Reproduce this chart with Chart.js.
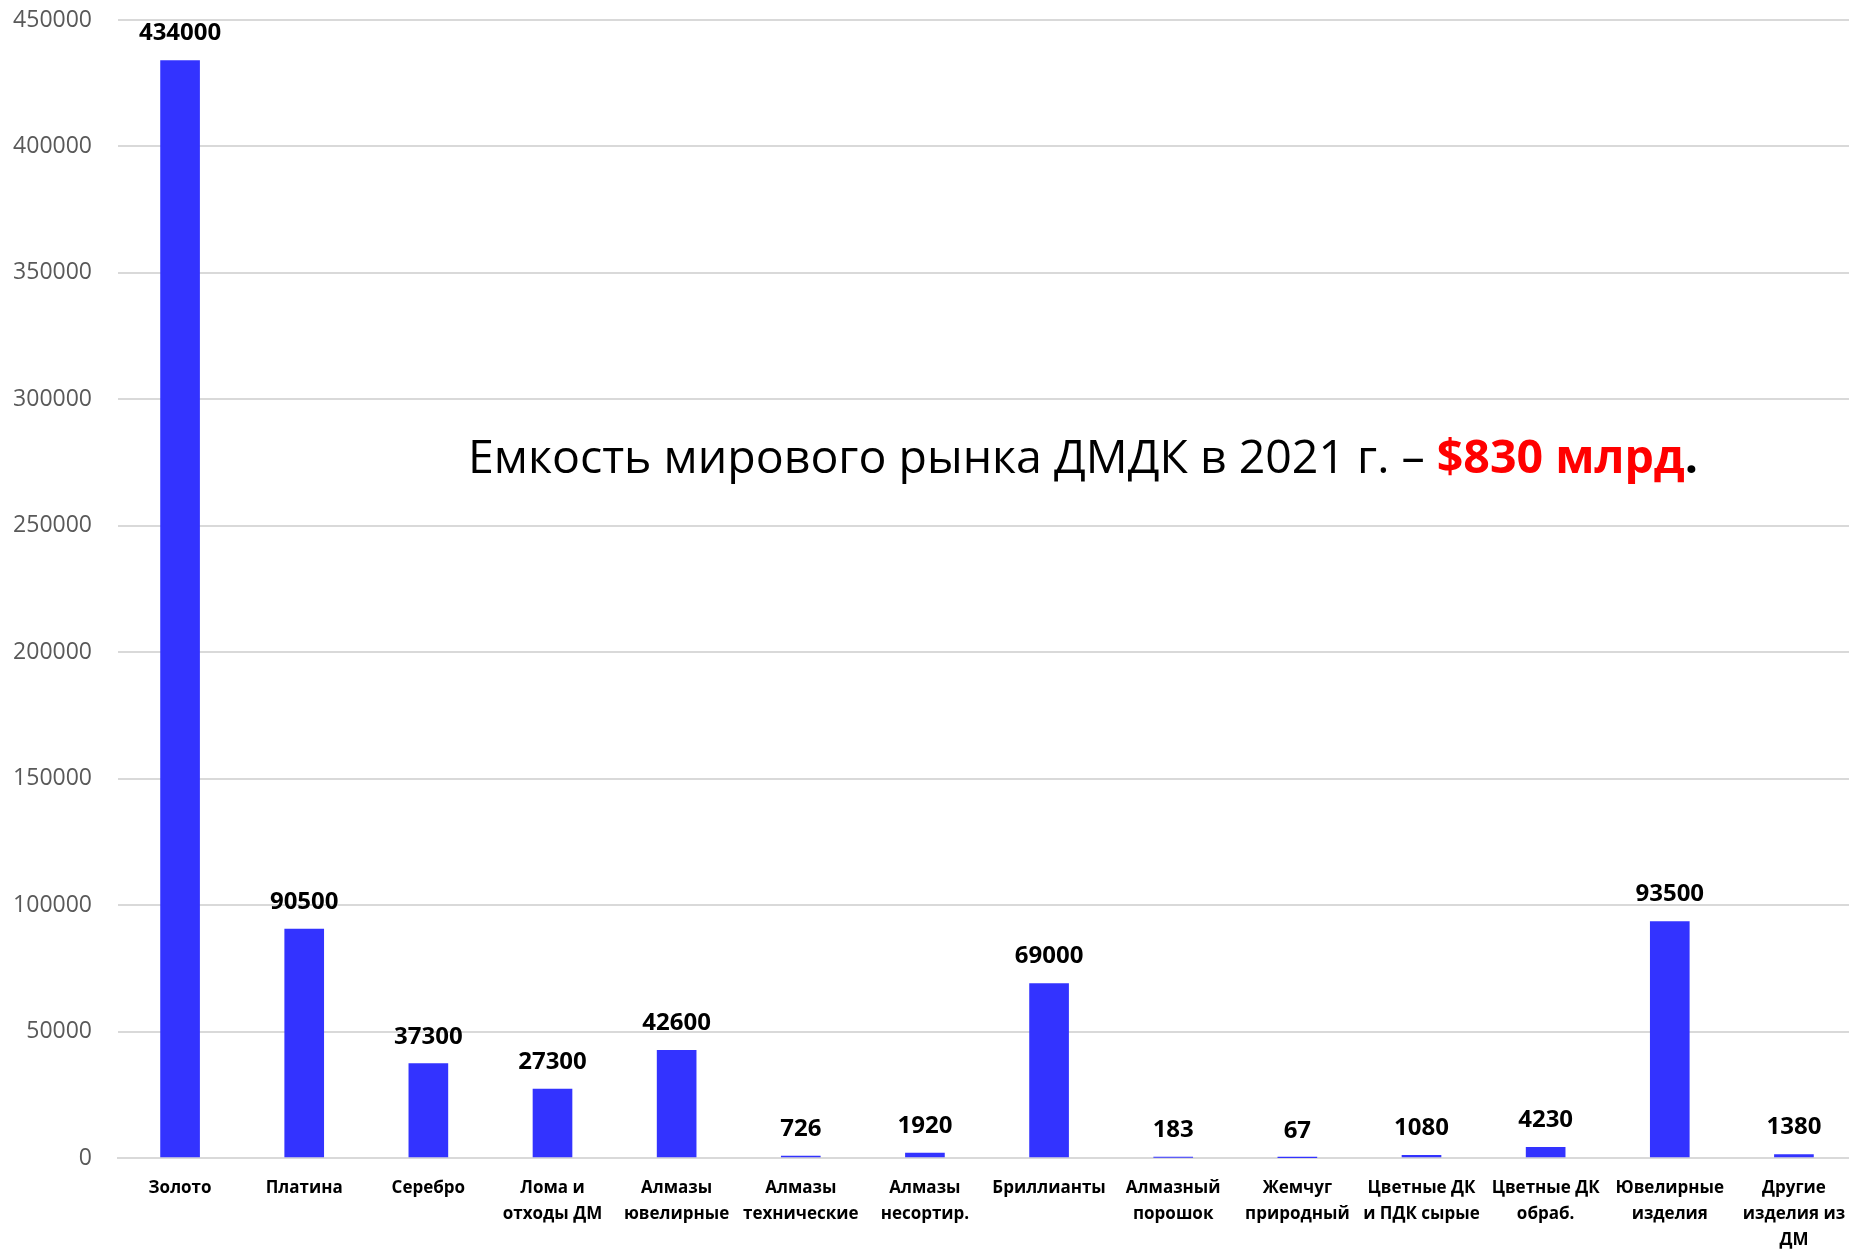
<!DOCTYPE html>
<html>
<head>
<meta charset="utf-8">
<script src="https://cdn.jsdelivr.net/npm/chart.js@4.4.1/dist/chart.umd.min.js"></script>
<style>
  html, body { margin: 0; background: #fff; overflow: hidden; }
  #wrap { width: 1856px; height: 1249px; }
</style>
</head>
<body>
<div id="wrap"><canvas id="myChart" width="1856" height="1249"></canvas></div>
<script>
// categories (multi-line labels as in the original)
const categories = [
  ["Золото"], ["Платина"], ["Серебро"], ["Лома и", "отходы ДМ"],
  ["Алмазы", "ювелирные"], ["Алмазы", "технические"], ["Алмазы", "несортир."],
  ["Бриллианты"], ["Алмазный", "порошок"], ["Жемчуг", "природный"],
  ["Цветные ДК", "и ПДК сырые"], ["Цветные ДК", "обраб."],
  ["Ювелирные", "изделия"], ["Другие", "изделия из", "ДМ"]
];
const values = [434000, 90500, 37300, 27300, 42600, 726, 1920, 69000, 183, 67, 1080, 4230, 93500, 1380];
const yMin = 0;
const yMax = 450000;
const yStep = 50000;
const noteText = "Емкость мирового рынка ДМДК в 2021 г. – ";
const noteAccent = "$830 млрд";

const valueLabels = {
  id: 'valueLabels',
  afterDatasetsDraw(chart) {
    const ctx = chart.ctx;
    const meta = chart.getDatasetMeta(0);
    ctx.save();
    ctx.font = "bold 24px 'Open Sans'";
    ctx.fillStyle = '#000';
    ctx.textAlign = 'center';
    ctx.textBaseline = 'middle';
    meta.data.forEach((bar, i) => {
      ctx.fillText(String(values[i]), bar.x, bar.y - 27);
    });
    ctx.restore();
  }
};

const note = {
  id: 'note',
  afterDraw(chart) {
    const ctx = chart.ctx;
    ctx.save();
    ctx.textBaseline = 'middle';
    ctx.textAlign = 'left';
    let x = 468;
    const y = 460;
    ctx.font = "46.5px 'Open Sans'";
    ctx.fillStyle = '#000';
    ctx.fillText(noteText, x, y);
    x += ctx.measureText(noteText).width;
    ctx.font = "bold 46.5px 'Open Sans'";
    ctx.fillStyle = '#ff0000';
    ctx.fillText(noteAccent, x, y);
    x += ctx.measureText(noteAccent).width;
    ctx.fillStyle = '#000';
    ctx.fillText('.', x, y);
    ctx.restore();
  }
};

new Chart(document.getElementById('myChart').getContext('2d'), {
  type: 'bar',
  data: {
    labels: categories,
    datasets: [{
      data: values,
      backgroundColor: '#3333ff',
      barThickness: 39
    }]
  },
  options: {
    responsive: false,
    animation: false,
    layout: { padding: { top: 20, left: 0, right: 0, bottom: 0 } },
    plugins: { legend: { display: false }, tooltip: { enabled: false } },
    scales: {
      x: {
        grid: { display: false },
        border: { display: true, color: '#d9d9d9', width: 2 },
        ticks: {
          color: '#000',
          font: { family: 'Open Sans', size: 17, weight: 'bold', lineHeight: 1.53 },
          padding: 9,
          maxRotation: 0,
          minRotation: 0,
          autoSkip: false
        },
        afterFit(scale) {
          scale.height = 91;
          scale.paddingLeft = 0;
          scale.paddingRight = 0;
        }
      },
      y: {
        min: yMin,
        max: yMax,
        grid: { color: '#d9d9d9', lineWidth: 2, drawTicks: false },
        border: { display: false },
        ticks: {
          stepSize: yStep,
          color: '#595959',
          font: { family: 'Open Sans', size: 23 },
          padding: 26,
          callback: (v) => String(v)
        },
        afterFit(scale) {
          scale.width = 118;
          scale.paddingTop = 0;
          scale.paddingBottom = 0;
        }
      }
    }
  },
  plugins: [valueLabels, note]
});
</script>
</body>
</html>
